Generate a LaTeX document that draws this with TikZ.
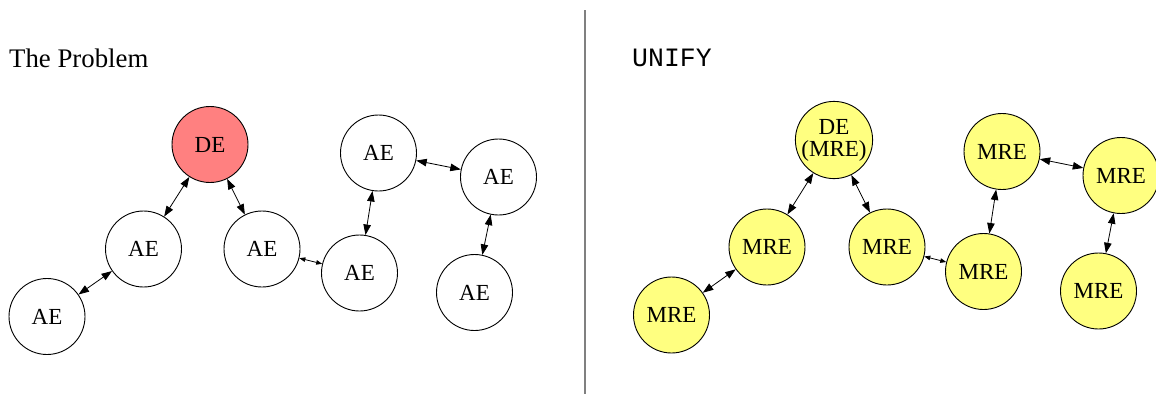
\documentclass[tikz,border=0pt]{standalone}
\usepackage{fontspec}
\setmainfont{Liberation Serif}
\setmonofont{Liberation Mono}
\usetikzlibrary{arrows.meta}
\definecolor{dered}{RGB}{255,128,128}
\definecolor{mreyellow}{RGB}{255,255,128}
\tikzset{
  ent/.style={circle, draw=black, line width=0.9pt, minimum size=76pt, inner sep=0pt,
    align=center, font=\fontsize{23}{22}\selectfont},
  aenode/.style={ent, fill=white},
  denode/.style={ent, fill=dered},
  mrenode/.style={ent, fill=mreyellow},
  link/.style={line width=0.8pt, {Triangle[length=10.5pt,width=7.5pt]}-{Triangle[length=10.5pt,width=7.5pt]}},
  shortlink/.style={line width=0.8pt, {Triangle[length=6pt,width=4.5pt]}-{Triangle[length=6pt,width=4.5pt]}},
  title/.style={anchor=base west, inner sep=0pt, font=\fontsize{26.8}{30}\selectfont}
}
\begin{document}
\begin{tikzpicture}[x=1pt,y=-1pt]
\useasboundingbox (0,0) rectangle (1156,394);
% divider
\coordinate (dtop) at (585,10);
\coordinate (dbot) at (585,394);
\draw[gray, line width=1.6pt] (dtop) -- (dbot);
% titles
\node[title] (t1) at (9,67) {The Problem};
\node[title, font=\fontsize{26.5}{30}\selectfont\ttfamily] (t2) at (632,66) {UNIFY};
% left graph
\node[denode] (lde) at (210,144.5) {DE};
\node[aenode] (la1) at (143.5,249) {AE};
\node[aenode] (la0) at (47,316.5) {AE};
\node[aenode] (la2) at (262,249) {AE};
\node[aenode] (la3) at (359.5,273) {AE};
\node[aenode] (la4) at (378.5,153) {AE};
\node[aenode] (la5) at (498.5,177) {AE};
\node[aenode] (la6) at (474.5,292.5) {AE};
\draw[link] (lde) -- (la1);
\draw[link] (lde) -- (la2);
\draw[link] (la1) -- (la0);
\draw[shortlink] (la2) -- (la3);
\draw[link] (la4) -- (la3);
\draw[link] (la4) -- (la5);
\draw[link] (la5) -- (la6);
% right graph
\node[mrenode] (rde) at (834,140) {DE\\(MRE)};
\node[mrenode] (rm1) at (767,247) {MRE};
\node[mrenode] (rm0) at (671.5,315) {MRE};
\node[mrenode] (rm2) at (887,247) {MRE};
\node[mrenode] (rm3) at (983.5,271.5) {MRE};
\node[mrenode] (rm4) at (1002,151.5) {MRE};
\node[mrenode] (rm5) at (1121,175.5) {MRE};
\node[mrenode] (rm6) at (1098.5,291) {MRE};
\draw[link] (rde) -- (rm1);
\draw[link] (rde) -- (rm2);
\draw[link] (rm1) -- (rm0);
\draw[shortlink] (rm2) -- (rm3);
\draw[link] (rm4) -- (rm3);
\draw[link] (rm4) -- (rm5);
\draw[link] (rm5) -- (rm6);
\end{tikzpicture}
\end{document}
